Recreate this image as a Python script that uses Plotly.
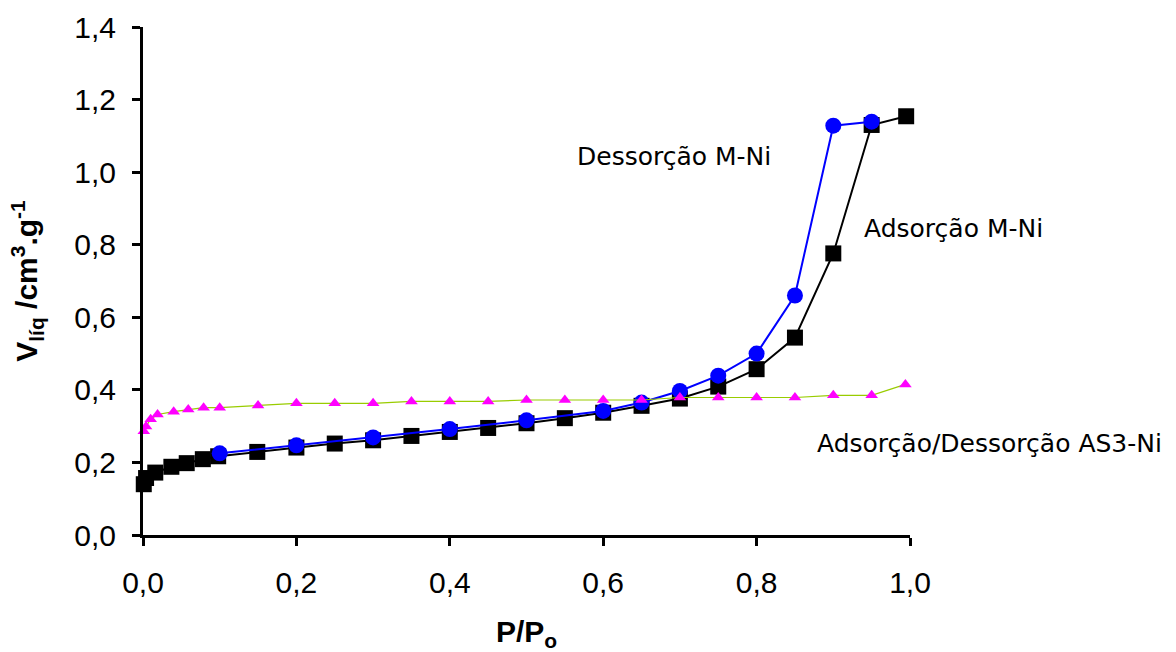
import plotly.graph_objects as go

# Adsorção M-Ni (black squares)
ads_x = [0.001, 0.004, 0.016, 0.037, 0.057, 0.078, 0.098, 0.149, 0.2, 0.25, 0.3, 0.35, 0.4,
         0.45, 0.5, 0.55, 0.6, 0.65, 0.7, 0.75, 0.8, 0.85, 0.9, 0.95, 0.995]
ads_y = [0.14, 0.157, 0.172, 0.188, 0.198, 0.209, 0.217, 0.229, 0.241, 0.252, 0.261, 0.273, 0.284,
         0.295, 0.308, 0.322, 0.337, 0.356, 0.376, 0.409, 0.457, 0.544, 0.776, 1.13, 1.154]

# Dessorção M-Ni (blue circles)
des_x = [0.1, 0.2, 0.3, 0.4, 0.5, 0.6, 0.65, 0.7, 0.75, 0.8, 0.85, 0.9, 0.95]
des_y = [0.225, 0.247, 0.269, 0.292, 0.316, 0.342, 0.365, 0.397, 0.439, 0.50, 0.66, 1.128, 1.139]

# Adsorção/Dessorção AS3-Ni (magenta triangles)
as3_x = [0.001, 0.004, 0.01, 0.019, 0.04, 0.059, 0.079, 0.1, 0.15, 0.2, 0.25, 0.3, 0.35, 0.4,
         0.45, 0.5, 0.55, 0.6, 0.65, 0.7, 0.75, 0.8, 0.85, 0.9, 0.95, 0.994]
as3_y = [0.286, 0.299, 0.319, 0.332, 0.34, 0.346, 0.351, 0.351, 0.357, 0.363, 0.363, 0.363, 0.368,
         0.368, 0.368, 0.372, 0.372, 0.372, 0.372, 0.379, 0.379, 0.379, 0.379, 0.385, 0.385, 0.415]

x_ticks = [0.0, 0.2, 0.4, 0.6, 0.8, 1.0]
y_ticks = [0.0, 0.2, 0.4, 0.6, 0.8, 1.0, 1.2, 1.4]

fig = go.Figure()
fig.add_trace(go.Scatter(x=ads_x, y=ads_y, mode="lines+markers", cliponaxis=False,
                         line=dict(color="black", width=2),
                         marker=dict(symbol="square", size=16, color="black")))
fig.add_trace(go.Scatter(x=des_x, y=des_y, mode="lines+markers", cliponaxis=False,
                         line=dict(color="#0000FF", width=2),
                         marker=dict(symbol="circle", size=16, color="#0000FF")))
fig.add_trace(go.Scatter(x=as3_x, y=as3_y, mode="lines+markers", cliponaxis=False,
                         line=dict(color="#99CC00", width=1.2),
                         marker=dict(symbol="triangle-up", size=11, color="#FF00FF")))

ann_font = dict(family="DejaVu Sans", size=25, color="black")
fig.add_annotation(x=0.563, y=1.042, text="Dessorção M-Ni", showarrow=False,
                   xanchor="left", yanchor="middle", font=ann_font)
fig.add_annotation(x=0.937, y=0.846, text="Adsorção M-Ni", showarrow=False,
                   xanchor="left", yanchor="middle", font=ann_font)
fig.add_annotation(x=0.876, y=0.2535, text="Adsorção/Dessorção AS3-Ni", showarrow=False,
                   xanchor="left", yanchor="middle", font=ann_font)

tick_font = dict(family="Liberation Sans", size=30, color="black")
title_font = dict(family="Liberation Sans", size=30, color="black")
axis_common = dict(showline=True, linecolor="black", linewidth=3, ticks="outside",
                   ticklen=8, tickwidth=3, tickcolor="black", showgrid=False, zeroline=False,
                   tickfont=tick_font, tickformat=".1f", automargin=False)

fig.update_xaxes(range=[0, 1.0], tickvals=x_ticks, ticklabelstandoff=11,
                 title=dict(text="<b>P/P<sub>o</sub></b>", standoff=43, font=title_font),
                 **axis_common)
fig.update_yaxes(range=[0, 1.4], tickvals=y_ticks, ticklabelstandoff=10,
                 title=dict(text="<b>V<sub>líq</sub> /cm<sup>3</sup>.g<sup>-1</sup></b>", standoff=28,
                            font=title_font),
                 **axis_common)

fig.update_layout(width=1176, height=652, showlegend=False,
                  paper_bgcolor="white", plot_bgcolor="white",
                  separators=",.",
                  margin=dict(l=143, r=266, t=27, b=117))

fig.write_html("out.html")
